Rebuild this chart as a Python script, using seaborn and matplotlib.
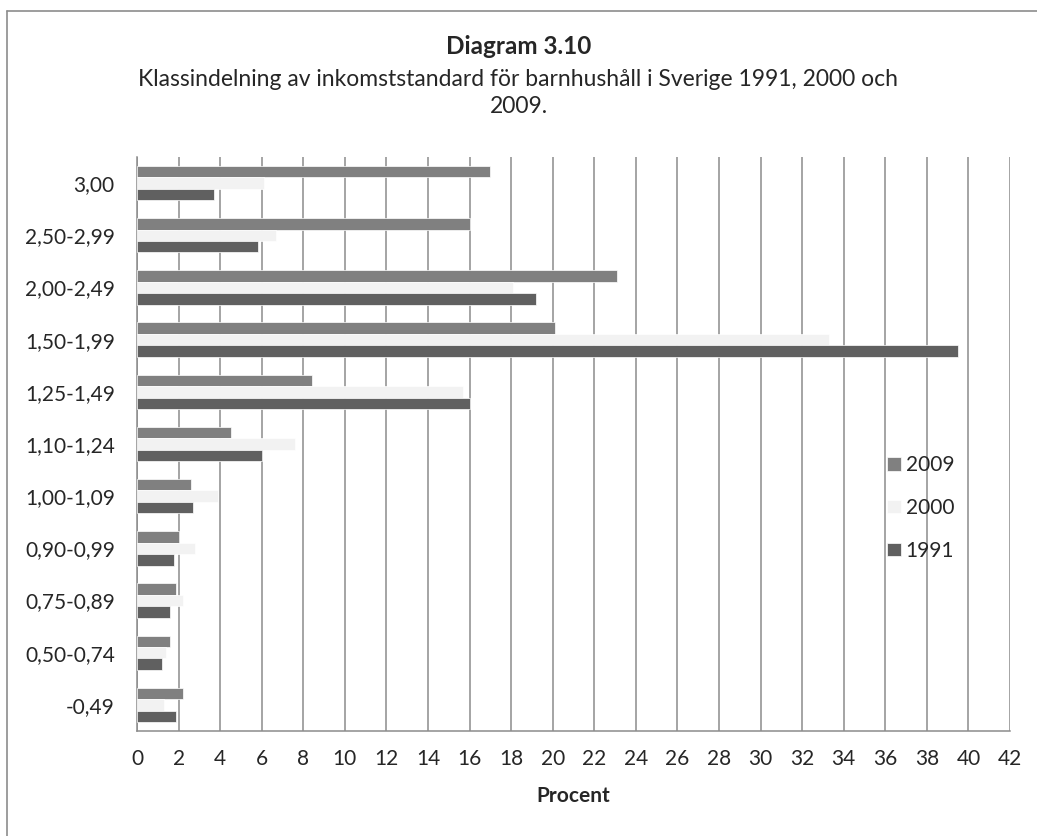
import numpy as np
import pandas as pd
import matplotlib
matplotlib.use("Agg")
import matplotlib.pyplot as plt
import seaborn as sns
from matplotlib.lines import Line2D
from matplotlib.ticker import MultipleLocator, FixedLocator

# data
categories = ["3,00", "2,50-2,99", "2,00-2,49", "1,50-1,99", "1,25-1,49", "1,10-1,24",
              "1,00-1,09", "0,90-0,99", "0,75-0,89", "0,50-0,74", "-0,49"]
years = ["2009", "2000", "1991"]
vals_2009 = [17.0, 16.0, 23.1, 20.1, 8.4, 4.5, 2.6, 2.0, 1.9, 1.6, 2.2]
vals_2000 = [6.1, 6.7, 18.1, 33.3, 15.7, 7.6, 3.9, 2.8, 2.2, 1.4, 1.3]
vals_1991 = [3.7, 5.8, 19.2, 39.5, 16.0, 6.0, 2.7, 1.8, 1.6, 1.2, 1.9]
colors = {"2009": "#808080", "2000": "#f2f2f2", "1991": "#606060"}

df = pd.DataFrame({
    "klass": categories * 3,
    "year": ["2009"] * 11 + ["2000"] * 11 + ["1991"] * 11,
    "procent": vals_2009 + vals_2000 + vals_1991,
})

sns.set_style("white")
plt.rcParams["font.family"] = ["Lato", "DejaVu Sans"]
grid_c = "#8c8c8c"

W, H = 1037, 836
fig = plt.figure(figsize=(W / 100, H / 100), dpi=100)
# plot area: x 137..1010 px, y 157..731 px
ax = fig.add_axes([137 / W, 1 - 731 / H, 873 / W, 574 / H])

sns.barplot(data=df, y="klass", x="procent", hue="year", order=categories,
            hue_order=years, palette=colors, orient="h", width=0.66,
            edgecolor="white", linewidth=0.5, ax=ax, zorder=3)

ax.set_xlim(0, 42)
ax.set_ylim(10.5, -0.5)
ax.xaxis.set_major_locator(MultipleLocator(2))
ax.grid(axis="x", color=grid_c, linewidth=1.1, zorder=0)
ax.grid(axis="y", visible=False)
ax.set_axisbelow(True)

for s in ["top", "right"]:
    ax.spines[s].set_visible(False)
for s in ["left", "bottom"]:
    ax.spines[s].set_color(grid_c)
    ax.spines[s].set_linewidth(1.1)

# y ticks sit between the groups, labels centred on them
ax.yaxis.set_minor_locator(FixedLocator(np.arange(-0.5, 11, 1)))
ax.tick_params(axis="y", which="major", length=0, labelsize=15, pad=16)
ax.tick_params(axis="y", which="minor", length=5, color=grid_c, width=1.1)
ax.tick_params(axis="x", which="major", length=5, color=grid_c, width=1.1,
               labelsize=15, pad=8, direction="out")

ax.set_ylabel("")
ax.set_xlabel("Procent", fontsize=15, fontweight="bold", labelpad=12)

ax.legend(loc="center left", bbox_to_anchor=(877 / W, 1 - 508 / H),
          bbox_transform=fig.transFigure, frameon=False, fontsize=15,
          handlelength=0.63, handleheight=0.63, handletextpad=0.25,
          labelspacing=1.1, borderpad=0)

fig.text(0.5, 1 - 47 / H, "Diagram 3.10", ha="center", va="center",
         fontsize=17.5, fontweight="bold")
fig.text(0.5, 1 - 93 / H,
         "Klassindelning av inkomststandard för barnhushåll i Sverige 1991, 2000 och\n2009.",
         ha="center", va="center", fontsize=16.5, linespacing=1.3)

# frame: only top and left edges are visible in the reference
fig.add_artist(Line2D([6.5 / W, 1], [1 - 10.5 / H, 1 - 10.5 / H], transform=fig.transFigure,
                      color=grid_c, linewidth=1.2))
fig.add_artist(Line2D([6.5 / W, 6.5 / W], [0, 1 - 10.5 / H], transform=fig.transFigure,
                      color=grid_c, linewidth=1.2))

fig.savefig("out.png", dpi=100)
